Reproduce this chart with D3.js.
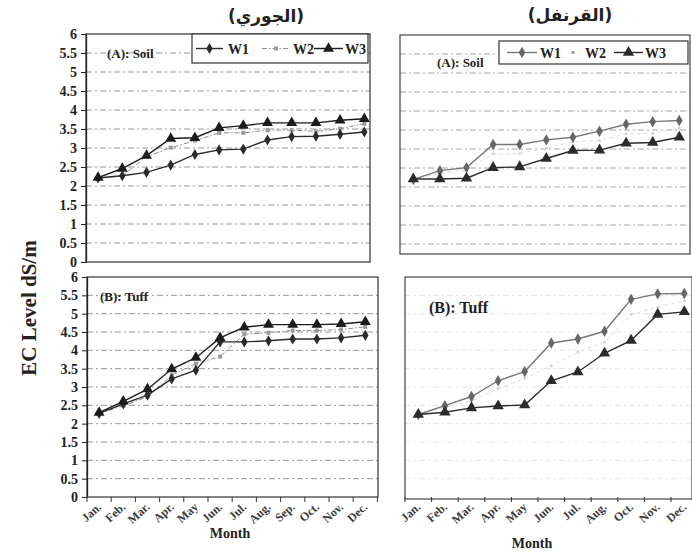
<!DOCTYPE html>
<html><head><meta charset="utf-8">
<script src="https://cdn.jsdelivr.net/npm/d3@7"></script>
<style>body{margin:0;background:#fff}svg{display:block}</style>
</head><body><svg id="c" width="692" height="554"></svg>
<script>
// ---- data ----
const monthsJouri = ["Jan.","Feb.","Mar.","Apr.","May","Jun.","Jul.","Aug.","Sep.","Oct.","Nov.","Dec."];
const monthsQaranfol = ["Jan.","Feb.","Mar.","Apr.","May","Jun.","Jul.","Aug.","Oct.","Nov.","Dec."];
const yTicks = [0,0.5,1,1.5,2,2.5,3,3.5,4,4.5,5,5.5,6];
const seriesNames = ["W1","W2","W3"];

const jouriSoilW1 = [2.21,2.27,2.36,2.55,2.83,2.95,2.97,3.21,3.30,3.31,3.36,3.42];
const jouriSoilW2 = [2.21,2.27,2.77,3.01,3.19,3.40,3.40,3.47,3.47,3.44,3.51,3.64];
const jouriSoilW3 = [2.22,2.46,2.80,3.25,3.27,3.53,3.59,3.66,3.66,3.66,3.73,3.77];

const jouriTuffW1 = [2.28,2.54,2.78,3.22,3.46,4.23,4.23,4.26,4.31,4.31,4.34,4.41];
const jouriTuffW2 = [2.28,2.49,2.73,3.32,3.64,3.83,4.44,4.48,4.54,4.54,4.57,4.64];
const jouriTuffW3 = [2.30,2.61,2.94,3.49,3.80,4.34,4.63,4.70,4.70,4.70,4.72,4.78];

const qaranfolSoilW1 = [2.20,2.43,2.51,3.12,3.12,3.24,3.31,3.47,3.65,3.72,3.75];
const qaranfolSoilW2 = [2.20,2.36,2.45,2.87,2.88,3.02,3.19,3.22,3.40,3.41,3.55];
const qaranfolSoilW3 = [2.21,2.21,2.23,2.51,2.53,2.75,2.96,2.97,3.15,3.17,3.31];

const qaranfolTuffW1 = [2.25,2.49,2.74,3.17,3.42,4.20,4.31,4.52,5.39,5.54,5.55];
const qaranfolTuffW2 = [2.25,2.45,2.62,2.95,3.24,3.58,3.95,4.22,4.98,5.18,5.35];
const qaranfolTuffW3 = [2.25,2.31,2.43,2.48,2.51,3.17,3.41,3.92,4.27,4.98,5.05];

const titleLeft = "(الجوري)";
const titleRight = "(القرنفل)";
const yTitle = "EC Level dS/m";
const xTitle = "Month";

// ---- drawing ----
const svg = d3.select("#c");
const SERIF = "'Liberation Serif','Times New Roman',serif";

const leftStyle = [
  {stroke:"#2b2b2b", marker:d3.symbolDiamond, msize:36, fill:"#2b2b2b", dash:null},
  {stroke:"#8c8c8c", marker:d3.symbolSquare, msize:16, fill:"#9a9a9a", dash:"5,2,1.5,2"},
  {stroke:"#1c1c1c", marker:d3.symbolTriangle, msize:52, fill:"#1c1c1c", dash:null}
];
const rightStyle = [
  {stroke:"#777", marker:d3.symbolDiamond, msize:38, fill:"#666", dash:null},
  {stroke:"#dedede", marker:d3.symbolSquare, msize:6, fill:"#cfcfcf", dash:"4,3"},
  {stroke:"#2b2b2b", marker:d3.symbolTriangle, msize:56, fill:"#2b2b2b", dash:null}
];

function panel(o){
  const x = d3.scaleBand().domain(o.months).range([o.x0, o.x0 + o.bw*o.months.length]).padding(0);
  const y = d3.scaleLinear().domain([0,6]).range([o.yb, o.yt]);
  const cx = m => x(m) + x.bandwidth()/2;
  const g = svg.append("g");
  g.append("g").selectAll("line").data(yTicks.filter(t => t>0 && t<6)).join("line")
    .attr("x1", o.x0).attr("x2", o.fr).attr("y1", d=>y(d)).attr("y2", d=>y(d))
    .attr("stroke", o.gridColor).attr("stroke-width", 0.9)
    .attr("stroke-dasharray", "6,3,2,3");
  g.append("rect").attr("x", o.x0).attr("y", o.yt).attr("width", o.fr - o.x0).attr("height", o.fb - o.yt)
    .attr("fill","none").attr("stroke", o.frameColor).attr("stroke-width", 1.2);
  if (o.yAxis){
    const ax = g.append("g").attr("transform", `translate(${o.x0},0)`)
      .call(d3.axisLeft(y).tickValues(yTicks).tickSize(5).tickSizeOuter(0).tickFormat(d=>String(d)));
    ax.select(".domain").attr("stroke","#222").attr("stroke-width",1.3);
    ax.selectAll(".tick line").attr("stroke","#222");
    ax.selectAll("text").attr("font-family",SERIF).attr("font-size",14).attr("font-weight","bold")
      .attr("fill","#222").attr("dx","-1");
  }
  if (o.xAxis){
    const bounds = o.months.map(m => x(m)).concat([x(o.months[o.months.length-1]) + x.bandwidth()]);
    g.append("g").selectAll("line").data(bounds).join("line")
      .attr("x1", d=>d).attr("x2", d=>d).attr("y1", o.yb).attr("y2", o.yb+5)
      .attr("stroke","#333").attr("stroke-width",1);
    g.append("g").selectAll("text").data(o.months).join("text")
      .attr("transform", d => `translate(${cx(d)+3},${o.yb+11}) rotate(-42)`)
      .attr("text-anchor","end").attr("font-family",SERIF).attr("font-size",12)
      .attr("font-weight","bold").attr("fill","#3a3a3a").text(d=>d);
    g.append("text").attr("x", o.monthX).attr("y", o.monthY).attr("text-anchor","middle")
      .attr("font-family",SERIF).attr("font-size",14).attr("font-weight","bold").attr("fill","#222").text(xTitle);
  }
  const order = [1,0,2];
  order.forEach(i => {
    const s = o.styles[i];
    const vals = o.series[i];
    const line = d3.line().x((d,j)=>cx(o.months[j])).y(d=>y(d));
    g.append("path").datum(vals).attr("d", line).attr("fill","none")
      .attr("stroke", s.stroke).attr("stroke-width", i===1?1:1.4)
      .attr("stroke-dasharray", s.dash);
    g.append("g").selectAll("path").data(vals).join("path")
      .attr("transform", (d,j)=>`translate(${cx(o.months[j])},${y(d)})`)
      .attr("d", d3.symbol().type(s.marker).size(s.msize)).attr("fill", s.fill);
  });
  g.append("text").attr("x", o.label.x).attr("y", o.label.y).attr("font-family",SERIF)
    .attr("font-size", o.label.size).attr("font-weight","bold").attr("fill","#222").text(o.label.text);
  if (o.legend){
    const L = o.legend;
    g.append("rect").attr("x",L.x).attr("y",L.y).attr("width",L.w).attr("height",L.h)
      .attr("fill","#fff").attr("stroke","#333").attr("stroke-width",1.2);
    L.items.forEach((it,i) => {
      const s = o.styles[i];
      const my = L.y + L.h/2;
      if (!(o.hideW2LegendLine && i===1)) {
        g.append("line").attr("x1",it.lx).attr("x2",it.lx+it.lw).attr("y1",my).attr("y2",my)
          .attr("stroke", s.stroke).attr("stroke-width", i===1?1:1.4).attr("stroke-dasharray", s.dash);
      }
      g.append("path").attr("transform",`translate(${it.lx+it.lw/2},${my})`)
        .attr("d", d3.symbol().type(s.marker).size(i===1 ? Math.max(s.msize,8) : s.msize)).attr("fill", i===1 && o.hideW2LegendLine ? "#999" : s.fill);
      g.append("text").attr("x", it.tx).attr("y", my+5).attr("font-family",SERIF).attr("font-size",14)
        .attr("font-weight","bold").attr("fill","#222").text(seriesNames[i]);
    });
  }
}

panel({months: monthsJouri, x0:86, bw:24.2, yt:34, yb:262, fr:370, fb:262,
  yAxis:true, xAxis:false, gridColor:"#8a8a8a", frameColor:"#333", styles:leftStyle,
  series:[jouriSoilW1, jouriSoilW2, jouriSoilW3],
  label:{x:107, y:58, size:13, text:"(A): Soil"},
  legend:{x:192, y:34, w:176, h:29, items:[{lx:196,lw:27,tx:228},{lx:262,lw:28,tx:293},{lx:314,lw:29,tx:345}]}
});
panel({months: monthsJouri, x0:87, bw:24.2, yt:277, yb:497, fr:378, fb:497,
  yAxis:true, xAxis:true, gridColor:"#8a8a8a", frameColor:"#333", styles:leftStyle,
  series:[jouriTuffW1, jouriTuffW2, jouriTuffW3],
  label:{x:100, y:301, size:13, text:"(B): Tuff"},
  monthX:230, monthY:538
});
panel({months: monthsQaranfol, x0:400, bw:26.6, yt:35, yb:263, fr:690, fb:254,
  yAxis:false, xAxis:false, gridColor:"#9a9a9a", frameColor:"#444", styles:rightStyle,
  series:[qaranfolSoilW1, qaranfolSoilW2, qaranfolSoilW3],
  label:{x:437, y:67, size:13, text:"(A): Soil"},
  legend:{x:499, y:41, w:189, h:23, items:[{lx:507,lw:30,tx:540},{lx:560,lw:26,tx:585},{lx:614,lw:29,tx:645}]},
  hideW2LegendLine:true
});
panel({months: monthsQaranfol, x0:405, bw:26.6, yt:277, yb:497, fr:692, fb:499,
  yAxis:false, xAxis:true, gridColor:"#e2e2e2", frameColor:"#444", styles:rightStyle,
  series:[qaranfolTuffW1, qaranfolTuffW2, qaranfolTuffW3],
  label:{x:429, y:313, size:16, text:"(B): Tuff"},
  monthX:532, monthY:548
});

svg.append("text").attr("x",266).attr("y",22).attr("text-anchor","middle")
  .attr("font-family","'DejaVu Sans',sans-serif").attr("font-size",17).attr("font-weight","bold")
  .attr("fill","#222").text(titleLeft);
svg.append("text").attr("x",570).attr("y",21).attr("text-anchor","middle")
  .attr("font-family","'DejaVu Sans',sans-serif").attr("font-size",17).attr("font-weight","bold")
  .attr("fill","#222").text(titleRight);
svg.append("text").attr("transform","translate(36,308) rotate(-90)").attr("text-anchor","middle")
  .attr("font-family",SERIF).attr("font-size",21).attr("font-weight","bold").attr("fill","#222").text(yTitle);
</script></body></html>
